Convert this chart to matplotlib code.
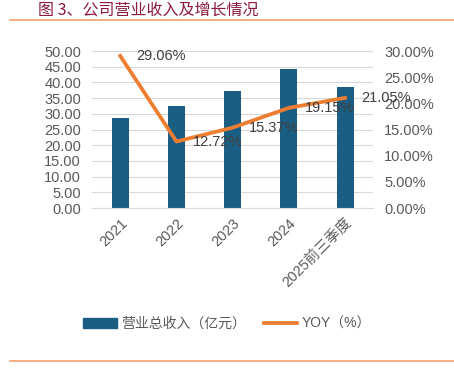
import matplotlib.pyplot as plt
from matplotlib.lines import Line2D

plt.rcParams['font.family'] = ['Liberation Sans', 'Noto Sans CJK SC', 'DejaVu Sans']

# данные
years = ['2021', '2022', '2023', '2024', '2025前三季度']
revenue = [28.6, 32.4, 37.3, 44.4, 38.4]
yoy = [29.06, 12.72, 15.37, 19.15, 21.05]
yoy_labels = ['29.06%', '12.72%', '15.37%', '19.15%', '21.05%']
left_ticks = [0, 5, 10, 15, 20, 25, 30, 35, 40, 45, 50]
right_ticks = [0, 5, 10, 15, 20, 25, 30]

grey = '#595959'
bar_c = '#1B5E84'
line_c = '#ED7D31'

fig = plt.figure(figsize=(4.54, 3.71), dpi=100)
ax = fig.add_axes([0.203, 0.439, 0.619, 0.4235])
ax2 = ax.twinx()

x = list(range(len(years)))
ax.bar(x, revenue, width=0.3, color=bar_c, zorder=2)
ax.set_ylim(0, 50)
ax.set_yticks(left_ticks)
ax.set_yticklabels(['%.2f' % v for v in left_ticks])
ax.set_xlim(-0.5, 4.5)
ax.set_xticks(x)
ax.set_xticklabels(years, rotation=45, ha='right', rotation_mode='anchor')
ax.grid(axis='y', color='#D9D9D9', lw=0.8, zorder=0)
ax.set_axisbelow(True)

ax2.plot(x, yoy, color=line_c, lw=2.7, zorder=3)
ax2.set_ylim(0, 30)
ax2.set_yticks(right_ticks)
ax2.set_yticklabels(['%.2f%%' % v for v in right_ticks])

# подписи значений справа от точек
for i in range(len(yoy)):
    ax2.annotate(yoy_labels[i], (x[i], yoy[i]), xytext=(11.5, 0), textcoords='offset points',
                 ha='left', va='center', fontsize=10.5, color='#404040', zorder=4)

for a in (ax, ax2):
    for s in a.spines.values():
        s.set_visible(False)
    a.tick_params(length=0, colors=grey, labelsize=10.5)
ax.tick_params(axis='y', pad=8)
ax2.tick_params(axis='y', pad=8)
ax.tick_params(axis='x', pad=6)
ax.spines['bottom'].set_visible(True)
ax.spines['bottom'].set_color('#D9D9D9')

handles = [plt.Rectangle((0, 0), 1, 1, color=bar_c), Line2D([0], [0], color=line_c, lw=2.7)]
fig.legend(handles, ['营业总收入（亿元）', 'YOY（%）'], loc='center', bbox_to_anchor=(0.5, 0.127),
           ncol=2, frameon=False, fontsize=10, labelcolor=grey, handlelength=2.4,
           columnspacing=1.3, handletextpad=0.3)

fig.text(0.083, 0.972, '图 3、公司营业收入及增长情况', fontsize=11.5, color='#8B1A3C',
         family=['Noto Sans CJK SC', 'DejaVu Sans'], va='center')
fig.add_artist(Line2D([0.022, 1.0], [0.946, 0.946], color='#F4A070', lw=1.2))
fig.add_artist(Line2D([0.022, 1.0], [0.027, 0.027], color='#F4A070', lw=1.2))

fig.savefig('out.png', dpi=100)
